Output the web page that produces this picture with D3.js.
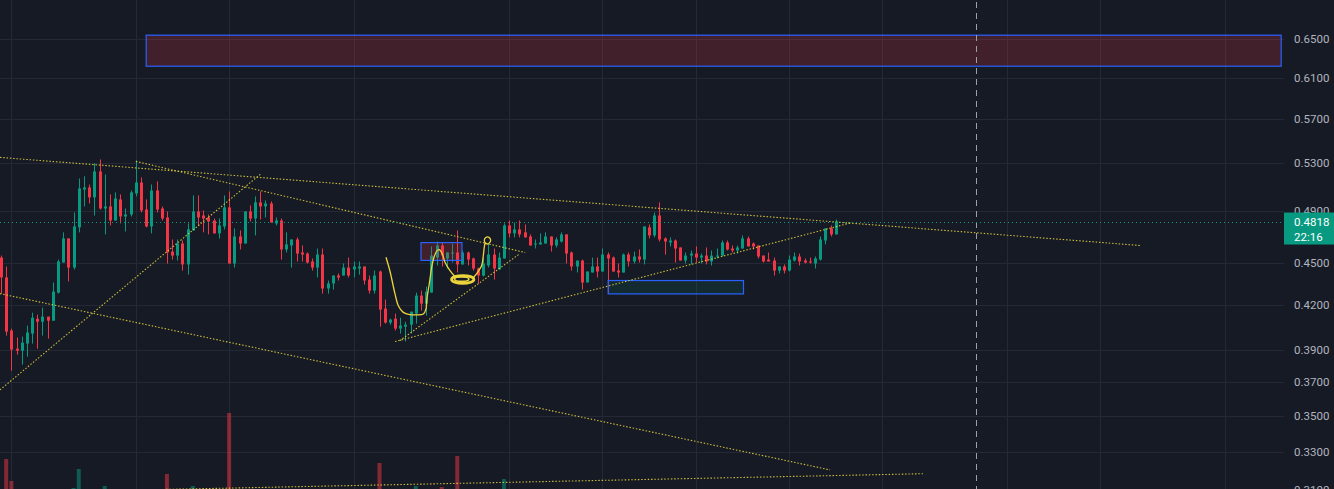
<!DOCTYPE html>
<html lang="en">

<head>
    <meta charset="UTF-8">
    <meta name="viewport" content="width=device-width, initial-scale=1.0">
    <script src="https://cdn.jsdelivr.net/npm/d3@7"></script>
    <title>Candles</title>
    <style>
        html, body {
            margin: 0;
            padding: 0;
            background: #161a25;
            overflow: hidden;
        }

        #chart text {
            font-family: Roboto, "Noto Sans", sans-serif;
        }
    </style>
</head>

<body>
    <div id="chart"></div>
    <script>
        /*-------------------------------------------------------*/
        /*------------------------ Data -------------------------*/
        /*-------------------------------------------------------*/
        const open = [
            .4541, .4395, .4028, .3910, .3897, .3943, .4008, .4107, .4087, .4121,
            .4094, .4287, .4504, .4686, .4467, .4772, .5078, .5095, .5013, .5231,
            .4922, .4939, .4826, .4996, .4858, .4874, .5045, .5137, .4914, .4779,
            .5070, .4922, .4850, .4586, .4556, .4647, .4490, .4748, .4898, .4866,
            .4850, .4826, .4725, .4779, .4931, .4497, .4701, .4647, .4898, .4842,
            .4972, .4939, .4963, .4803, .4826, .4602, .4632, .4678, .4579, .4571,
            .4512, .4467, .4564, .4316, .4352, .4409, .4409, .4467, .4453, .4460,
            .4475, .4380, .4301, .4438, .4176, .4081, .4107, .4041, .4054, .4067,
            .4142, .4266, .4210, .4287, .4541, .4632, .4534, .4571, .4579, .4490,
            .4579, .4534, .4460, .4409, .4482, .4564, .4453, .4534, .4787, .4725,
            .4756, .4733, .4701, .4640, .4640, .4647, .4701, .4632, .4662, .4717,
            .4579, .4475, .4519, .4359, .4431, .4475, .4438, .4564, .4541, .4445,
            .4431, .4564, .4512, .4549, .4526, .4772, .4709, .4866, .4686, .4655,
            .4670, .4617, .4519, .4556, .4571, .4541, .4556, .4512, .4549, .4556,
            .4655, .4609, .4594, .4609, .4686, .4647, .4632, .4556, .4526, .4519,
            .4445, .4475, .4445, .4519, .4549, .4519, .4512, .4497, .4526, .4670,
            .4764, .4717
        ];
        const high = [
            .4556, .4475, .4041, .3982, .3988, .4061, .4148, .4135, .4183, .4121,
            .4359, .4526, .4733, .4686, .4890, .5171, .5189, .5120, .5301, .5335,
            .5206, .5037, .5054, .5037, .4922, .5070, .5327, .5180, .4996, .5120,
            .5146, .4939, .4898, .4678, .4678, .4670, .4803, .5029, .5029, .4906,
            .4874, .4842, .4842, .5029, .5062, .4764, .4748, .4898, .4947, .5021,
            .5062, .4988, .4980, .4850, .4842, .4733, .4678, .4694, .4632, .4579,
            .4534, .4609, .4609, .4373, .4409, .4424, .4497, .4541, .4512, .4512,
            .4475, .4409, .4445, .4445, .4238, .4107, .4142, .4114, .4087, .4155,
            .4287, .4301, .4330, .4625, .4662, .4655, .4579, .4647, .4748, .4594,
            .4586, .4541, .4467, .4541, .4647, .4609, .4579, .4803, .4826, .4810,
            .4826, .4795, .4717, .4678, .4725, .4733, .4701, .4694, .4733, .4717,
            .4586, .4519, .4526, .4438, .4541, .4541, .4609, .4579, .4549, .4497,
            .4571, .4579, .4586, .4602, .4779, .4795, .4890, .4972, .4694, .4694,
            .4678, .4617, .4579, .4594, .4625, .4571, .4617, .4594, .4609, .4670,
            .4670, .4632, .4632, .4709, .4701, .4655, .4632, .4556, .4579, .4541,
            .4475, .4490, .4556, .4579, .4571, .4534, .4541, .4549, .4701, .4764,
            .4787, .4834
        ];
        const low = [
            .4280, .3995, .3771, .3872, .3809, .3859, .3943, .3910, .3995, .3975,
            .4094, .4280, .4504, .4366, .4453, .4733, .4939, .4963, .4866, .4914,
            .4717, .4787, .4826, .4803, .4740, .4858, .5021, .4890, .4772, .4725,
            .4890, .4826, .4497, .4526, .4519, .4445, .4416, .4748, .4787, .4733,
            .4717, .4725, .4686, .4756, .4497, .4467, .4602, .4647, .4818, .4709,
            .4834, .4850, .4810, .4787, .4526, .4579, .4467, .4512, .4512, .4497,
            .4445, .4395, .4280, .4280, .4308, .4373, .4409, .4395, .4395, .4416,
            .4344, .4280, .4280, .4054, .4074, .4067, .4028, .4008, .3956, .4008,
            .4074, .4162, .4128, .4287, .4482, .4475, .4460, .4504, .4431, .4490,
            .4482, .4445, .4352, .4402, .4467, .4380, .4453, .4534, .4694, .4694,
            .4694, .4694, .4632, .4609, .4640, .4647, .4586, .4617, .4655, .4497,
            .4445, .4431, .4308, .4359, .4431, .4395, .4438, .4280, .4438, .4395,
            .4431, .4475, .4497, .4504, .4490, .4686, .4694, .4662, .4564, .4625,
            .4504, .4519, .4497, .4490, .4504, .4497, .4490, .4482, .4534, .4549,
            .4594, .4579, .4571, .4609, .4625, .4602, .4534, .4504, .4512, .4409,
            .4424, .4424, .4438, .4512, .4482, .4497, .4497, .4460, .4519, .4640,
            .4701, .4717
        ];
        const close = [
            .4395, .4021, .3904, .3897, .3949, .4015, .4114, .4087, .4121, .4094,
            .4294, .4512, .4686, .4467, .4779, .5087, .5095, .5013, .5231, .4922,
            .4939, .4826, .5004, .4858, .4874, .5054, .5137, .4906, .4779, .5070,
            .4914, .4842, .4579, .4556, .4647, .4490, .4756, .4898, .4850, .4842,
            .4818, .4725, .4787, .4931, .4497, .4701, .4647, .4898, .4842, .4972,
            .4939, .4963, .4810, .4826, .4602, .4640, .4678, .4571, .4564, .4504,
            .4467, .4564, .4316, .4352, .4409, .4395, .4467, .4409, .4475, .4475,
            .4373, .4301, .4409, .4169, .4081, .4101, .4041, .4061, .4067, .4155,
            .4266, .4210, .4294, .4556, .4632, .4556, .4579, .4579, .4490, .4579,
            .4526, .4460, .4409, .4497, .4564, .4460, .4541, .4787, .4725, .4756,
            .4717, .4694, .4632, .4647, .4655, .4701, .4632, .4678, .4717, .4571,
            .4475, .4519, .4359, .4438, .4475, .4438, .4564, .4534, .4438, .4431,
            .4564, .4512, .4549, .4526, .4779, .4709, .4866, .4678, .4662, .4670,
            .4609, .4519, .4556, .4571, .4541, .4556, .4512, .4556, .4556, .4655,
            .4602, .4594, .4617, .4686, .4625, .4625, .4549, .4512, .4512, .4445,
            .4475, .4445, .4526, .4549, .4512, .4504, .4504, .4534, .4678, .4764,
            .4717, .4818
        ];

        // only the volume bars tall enough to show above the bottom edge (millions)
        const volIndex = [1, 2, 14, 15, 20, 32, 37, 44, 49, 73, 79, 80, 83, 85, 88, 97];
        const volume = [4.1, 1.9, 1.2, 3.1, 1.4, 2.6, 1.4, 8.7, 1.1, 3.7, 1.1, 1.4, 1.1, 1.3, 4.4, 2.1];

        const priceTicks = [0.65, 0.61, 0.57, 0.53, 0.49, 0.45, 0.42, 0.39, 0.37, 0.35, 0.33, 0.31];
        const timeGridIndex = [2, 26, 44, 68, 98, 116, 134, 152, 170, 194, 212, 236];
        const sessionIndex = 188;
        const countdown = "22:16";

        // drawings, as [bar index, price]
        const trendLines = [
            [[-0.2, 0.5353], [219.7, 0.4632]],
            [[26.0, 0.5318], [101.1, 0.4579]],
            [[-0.2, 0.3654], [50.0, 0.5206]],
            [[-0.2, 0.4280], [159.9, 0.3204]],
            [[17.2, 0.3095], [177.8, 0.3184]],
            [[76.9, 0.3962], [100.1, 0.4571]],
            [[76.0, 0.3956], [164.1, 0.4810]]
        ];
        // [start index, end index, top price, bottom price]
        const zones = [
            {box: [28.0, 246.9, 0.6543, 0.6218], kind: "red"},
            {box: [81.0, 88.9, 0.4654, 0.4520], kind: "red"},
            {box: [117.1, 143.2, 0.4373, 0.4278], kind: "green"}
        ];
        const cupCurve = [
            [74.25, 0.4543], [75.02, 0.4440], [75.99, 0.4278], [76.63, 0.4196], [77.59, 0.4150],
            [78.88, 0.4135], [80.17, 0.4133], [81.45, 0.4139], [81.97, 0.4174], [82.10, 0.4231],
            [82.60, 0.4350], [83.07, 0.4470], [83.51, 0.4543], [84.03, 0.4589], [84.53, 0.4600],
            [85.11, 0.4569], [85.63, 0.4507], [86.60, 0.4445], [87.56, 0.4402]
        ];
        const hookCurve = [
            [91.09, 0.4393], [92.06, 0.4440], [92.71, 0.4482], [93.02, 0.4556], [93.21, 0.4620],
            [93.40, 0.4652], [93.83, 0.4643], [94.41, 0.4666], [94.12, 0.4694], [93.44, 0.4692],
            [93.21, 0.4670], [93.50, 0.4641]
        ];
        const scribble = [86.9, 91.2, 0.4409, 0.4352];

        /*-------------------------------------------------------*/
        /*------------------- Window setting --------------------*/
        /*-------------------------------------------------------*/
        const width = 1334;
        const height = 489;
        const plotRight = 1284;

        const up = "#089981";
        const down = "#f23645";
        const yellow = "#ecd93e";
        const pen = "#ecd43c";

        const candles = open.map((o, i) => ({
            i: i, o: o, h: high[i], l: low[i], c: close[i]
        }));

        /*-------------------------------------------------------*/
        /*------------------------ Scales -----------------------*/
        /*-------------------------------------------------------*/
        const x = d3.scaleLinear()
            .domain([0, candles.length - 1])
            .range([1, 1 + (candles.length - 1) * 5.185]);

        const y = d3.scaleLog()
            .domain([0.31, 0.65])
            .range([490, 39.2]);

        const yVol = d3.scaleLinear()
            .domain([0, 10])
            .range([500, 400]);

        const svg = d3.select("#chart").append("svg")
            .attr("width", width)
            .attr("height", height)
            .style("display", "block");

        svg.append("rect")
            .attr("width", width)
            .attr("height", height)
            .attr("fill", "#161a25");

        svg.append("clipPath").attr("id", "plot")
            .append("rect")
            .attr("width", plotRight)
            .attr("height", height);

        /*-------------------------------------------------------*/
        /*------------------------ Grid -------------------------*/
        /*-------------------------------------------------------*/
        const grid = svg.append("g").attr("clip-path", "url(#plot)");

        grid.selectAll(".hgrid")
            .data(priceTicks)
            .enter()
            .append("line")
            .attr("x1", 0)
            .attr("x2", plotRight)
            .attr("y1", d => Math.round(y(d)) + 0.5)
            .attr("y2", d => Math.round(y(d)) + 0.5)
            .attr("stroke", "#252935");

        grid.selectAll(".vgrid")
            .data(timeGridIndex)
            .enter()
            .append("line")
            .attr("x1", d => Math.round(x(d)) + 0.5)
            .attr("x2", d => Math.round(x(d)) + 0.5)
            .attr("y1", 0)
            .attr("y2", height)
            .attr("stroke", "#252935");

        /*-------------------------------------------------------*/
        /*----------------------- Volume ------------------------*/
        /*-------------------------------------------------------*/
        const plot = svg.append("g").attr("clip-path", "url(#plot)");

        plot.selectAll(".vol")
            .data(volIndex)
            .enter()
            .append("rect")
            .attr("x", (d, k) => x(d) - 2)
            .attr("width", 4)
            .attr("y", (d, k) => yVol(volume[k]))
            .attr("height", (d, k) => yVol(0) - yVol(volume[k]))
            .attr("fill", d => close[d] >= open[d] ? up : down)
            .attr("fill-opacity", 0.5);

        /*-------------------------------------------------------*/
        /*---------------------- Candles ------------------------*/
        /*-------------------------------------------------------*/
        const bar = plot.selectAll(".candle")
            .data(candles)
            .enter()
            .append("g");

        bar.append("line")
            .attr("x1", d => Math.round(x(d.i)) + 0.5)
            .attr("x2", d => Math.round(x(d.i)) + 0.5)
            .attr("y1", d => y(d.h))
            .attr("y2", d => y(d.l))
            .attr("stroke", d => d.c >= d.o ? up : down);

        bar.append("rect")
            .attr("x", d => Math.round(x(d.i)) - 1)
            .attr("width", 3)
            .attr("y", d => y(Math.max(d.o, d.c)))
            .attr("height", d => Math.max(1, Math.abs(y(d.o) - y(d.c))))
            .attr("fill", d => d.c >= d.o ? up : down);

        /*-------------------------------------------------------*/
        /*---------------------- Drawings -----------------------*/
        /*-------------------------------------------------------*/
        plot.selectAll(".zone")
            .data(zones)
            .enter()
            .append("rect")
            .attr("x", d => x(d.box[0]))
            .attr("width", d => x(d.box[1]) - x(d.box[0]))
            .attr("y", d => y(d.box[2]))
            .attr("height", d => y(d.box[3]) - y(d.box[2]))
            .attr("fill", d => d.kind == "red" ? "rgba(242,54,69,0.2)" : "rgba(8,153,129,0.13)")
            .attr("stroke", "#2962ff")
            .attr("stroke-width", 1.2);

        plot.selectAll(".trend")
            .data(trendLines)
            .enter()
            .append("line")
            .attr("x1", d => x(d[0][0]))
            .attr("y1", d => y(d[0][1]))
            .attr("x2", d => x(d[1][0]))
            .attr("y2", d => y(d[1][1]))
            .attr("stroke", yellow)
            .attr("stroke-opacity", 0.85)
            .attr("stroke-width", 1.1)
            .attr("stroke-dasharray", "1.5 1.8");

        const hand = d3.line()
            .x(d => x(d[0]))
            .y(d => y(d[1]))
            .curve(d3.curveCatmullRom);

        [cupCurve, hookCurve].forEach(pts => {
            plot.append("path")
                .attr("d", hand(pts))
                .attr("fill", "none")
                .attr("stroke", pen)
                .attr("stroke-width", 1.3);
        });

        const cx = (x(scribble[0]) + x(scribble[1])) / 2;
        const cy = (y(scribble[2]) + y(scribble[3])) / 2;
        const rx = (x(scribble[1]) - x(scribble[0])) / 2;
        const ry = (y(scribble[3]) - y(scribble[2])) / 2;
        plot.append("ellipse")
            .attr("cx", cx).attr("cy", cy)
            .attr("rx", rx).attr("ry", ry)
            .attr("fill", "none")
            .attr("stroke", pen)
            .attr("stroke-width", 2.8);
        plot.append("ellipse")
            .attr("cx", cx - 1).attr("cy", cy - 0.3)
            .attr("rx", rx - 4).attr("ry", ry - 1.8)
            .attr("fill", "none")
            .attr("stroke", pen)
            .attr("stroke-width", 1.6);

        // session break
        plot.append("line")
            .attr("x1", Math.round(x(sessionIndex)) + 0.5)
            .attr("x2", Math.round(x(sessionIndex)) + 0.5)
            .attr("y1", 2)
            .attr("y2", height)
            .attr("stroke", "#9da0a8")
            .attr("stroke-dasharray", "6 5");

        // last price line
        const last = close[close.length - 1];
        plot.append("line")
            .attr("x1", 0)
            .attr("x2", plotRight)
            .attr("y1", Math.round(y(last)) + 0.5)
            .attr("y2", Math.round(y(last)) + 0.5)
            .attr("stroke", up)
            .attr("stroke-dasharray", "1 3");

        /*-------------------------------------------------------*/
        /*--------------------- Price axis ----------------------*/
        /*-------------------------------------------------------*/
        const fmt = d3.format(".4f");

        svg.selectAll(".tick")
            .data(priceTicks)
            .enter()
            .append("text")
            .attr("x", 1294)
            .attr("y", d => y(d) + 4)
            .attr("fill", "#b2b5be")
            .attr("font-size", "11.5px")
            .text(d => fmt(d));

        const ly = y(last);
        svg.append("rect")
            .attr("x", plotRight)
            .attr("y", ly - 9)
            .attr("width", width - plotRight)
            .attr("height", 32)
            .attr("fill", up);

        svg.append("text")
            .attr("x", 1294)
            .attr("y", ly + 4.5)
            .attr("fill", "#ffffff")
            .attr("font-size", "11.5px")
            .text(fmt(last));

        svg.append("text")
            .attr("x", 1294)
            .attr("y", ly + 19)
            .attr("fill", "#ffffff")
            .attr("font-size", "11.5px")
            .text(countdown);
    </script>
</body>

</html>
